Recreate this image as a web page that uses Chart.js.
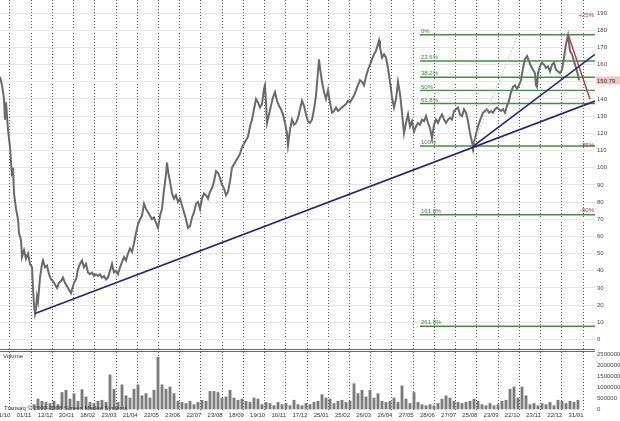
<!DOCTYPE html>
<html><head><meta charset="utf-8">
<script src="https://cdn.jsdelivr.net/npm/chart.js@4"></script>
<style>
html,body{margin:0;padding:0;background:#fff;}
#wrap{position:relative;width:620px;height:421px;overflow:hidden;background:#fff;}
#pc{position:absolute;left:0;top:0;}
#vc{position:absolute;left:0;top:349px;}
</style></head>
<body><div id="wrap"><canvas id="pc" width="620" height="349"></canvas><canvas id="vc" width="620" height="72"></canvas></div>
<script>
// ---- data (x = trading-day index along the chart) ----
const dateLabels = ['01/10','01/11','12/12','20/01','18/02','23/03','21/04','22/05','23/06','22/07','23/08','18/09','19/10','10/11','17/12','25/01','25/02','26/03','26/04','27/05','28/06','27/07','25/08','23/09','22/10','23/11','22/12','31/01'];
const dateTickDays = [9.8,31,52.3,73.5,94.7,116,137.2,158.4,179.6,200.9,222.1,243.3,264.6,285.8,307,328.2,349.5,370.7,391.9,413.2,434.4,455.6,476.8,498.1,519.3,540.5,561.8,583];
const dateLabelDays = [2.8,24,45.3,66.5,87.7,109,130.2,151.4,172.6,193.9,215.1,236.3,257.6,278.8,300,321.2,342.5,363.7,384.9,406.2,427.4,448.6,469.8,491.1,512.3,533.5,554.8,576];
const priceTicks = [0,10,20,30,40,50,60,70,80,90,100,110,120,130,140,150,160,170,180,190];
const volumeTicks = [0,500000,1000000,1500000,2000000,2500000];

// [day, close]
const priceBars = [[0,153],[2,148],[4,140],[5,128],[6,138],[8,122],[10,112],[12,95],[13,100],[14,85],[16,76],[18,70],[19,62],[21,58],[22,48],[24,52],[26,47],[28,50],[30,44],[32,42],[33,30],[34,20],[35,15],[36,18],[37,25],[38,22],[40,36],[42,44],[43,46],[45,42],[47,43],[49,38],[51,35],[53,34],[55,32],[57,30],[59,33],[61,34],[63,36],[65,33],[67,31],[69,29],[71,27],[72,29],[74,33],[76,35],[78,41],[80,44],[82,46],[84,42],[86,44],[88,39],[90,38],[92,39],[94,37],[96,38],[98,37],[100,38],[102,36],[104,37],[106,35],[108,36],[110,40],[112,44],[114,39],[116,40],[118,38],[120,42],[122,45],[124,48],[126,46],[128,50],[130,53],[132,51],[134,56],[136,62],[138,67],[140,70],[142,72],[144,79],[146,76],[148,74],[150,72],[152,70],[154,71],[156,68],[158,65],[160,72],[162,76],[164,87],[166,96],[167,103],[168,98],[170,92],[172,85],[174,82],[176,84],[178,80],[180,82],[182,78],[184,74],[186,70],[188,65],[190,66],[192,71],[194,74],[196,79],[198,80],[200,76],[202,82],[204,85],[206,84],[208,82],[210,86],[212,88],[214,92],[216,98],[218,97],[220,94],[222,90],[224,88],[226,84],[228,86],[230,92],[232,100],[234,102],[236,104],[238,106],[240,108],[242,112],[244,114],[246,116],[248,118],[250,124],[252,128],[254,134],[256,140],[258,138],[260,135],[262,137],[264,146],[265,148],[266,138],[267,126],[269,131],[271,136],[273,141],[275,144],[277,139],[279,136],[281,134],[283,131],[285,126],[287,120],[288,113],[290,122],[292,128],[294,125],[296,126],[298,129],[300,134],[302,139],[304,136],[306,131],[308,127],[310,126],[312,128],[314,134],[316,142],[318,156],[319,163],[320,158],[322,150],[324,144],[326,140],[328,145],[330,138],[332,132],[334,133],[336,135],[338,133],[340,134],[342,135],[344,136],[346,137],[348,139],[350,138],[352,140],[354,142],[356,145],[358,148],[360,151],[362,150],[364,148],[366,153],[368,157],[370,160],[372,163],[374,166],[376,168],[378,172],[379,174],[380,170],[382,164],[384,166],[386,164],[388,158],[390,150],[392,141],[394,135],[396,140],[398,150],[400,143],[402,132],[404,120],[406,126],[408,131],[410,124],[412,127],[414,121],[416,124],[418,126],[420,125],[422,128],[424,127],[426,130],[428,126],[430,123],[432,117],[434,125],[436,128],[438,126],[440,129],[442,131],[444,128],[446,126],[448,128],[450,129],[452,128],[454,133],[456,134],[458,135],[460,131],[462,130],[464,134],[466,132],[468,127],[470,120],[472,115],[473,112.5],[475,117],[477,122],[479,126],[481,129],[483,132],[485,133],[487,134],[489,132],[491,133],[493,132],[495,134],[497,135],[499,134],[501,133],[503,134],[505,132],[507,136],[509,139],[511,144],[513,147],[515,148],[517,146],[519,148],[521,151],[523,158],[525,163],[527,165],[529,162],[531,159],[533,157],[535,155],[536,148],[537,147],[538,155],[540,159],[542,161],[544,160],[546,158],[548,159],[550,156],[552,160],[554,161],[556,157],[558,156],[560,155],[562,157],[564,164],[566,172],[568,177],[570,168],[572,166],[574,162],[576,158],[578,154],[579,150.79]];
const lastPrice = 150.79;

// volume, one bar every 4 days starting at day 34
const volumeStartDay = 34, volumeStepDays = 4;
const volume = [200,450,350,300,250,350,200,750,850,450,700,350,880,550,300,250,350,400,300,1550,900,300,1100,600,500,900,1100,600,700,500,850,2350,1100,900,1000,700,350,300,250,350,200,300,400,350,800,800,750,500,550,850,500,400,450,350,300,500,450,200,300,250,150,300,200,250,150,400,200,150,250,200,300,350,650,500,450,250,350,400,300,350,1150,700,850,550,850,500,700,350,300,350,500,300,1050,450,250,750,300,200,150,200,150,250,450,600,500,350,300,250,300,350,450,350,200,150,250,150,200,350,400,900,1000,500,1000,600,200,250,150,250,200,300,150,400,350,250,350,300,400].map(v=>v*1000);

// Fibonacci levels and drawn lines
const fibLabels = ['0%','23.6%','38.2%','50%','61.8%','100%','161.8%','261.8%'];
const fibLevels = [177.4,162.1,152.6,145.0,137.4,112.6,72.6,7.75];
const fibStartDay = 420, fibEndDay = 595;
const pctLabels = ['+25%','-25%','-50%'];
const pctLevels = [188.5,113.1,75.4];
const supportLong = [[35,15.2],[595,138.8]];
const supportShort = [[472.7,112.2],[595,166]];
const resistance = [[568.3,177.2],[590,139.8]];
const fibGuide = [[472.7,112.6],[518,177.4]];

// ---- charts ----
const FONT = 'Liberation Sans';
const pts = a => a.map(p => ({x:p[0], y:p[1]}));
function fixW(s){ s.width = 25; s.paddingTop = 0; s.paddingBottom = 0; }
function tickSet(list){ return s => { s.ticks = list.map(v => ({value:v})); }; }

const lineDs = (data, color, w, dash, order) => ({type:'line', data:pts(data), borderColor:color, borderWidth:w, borderDash:dash||[], pointRadius:0, fill:false, tension:0, order:order||1});

const datasets = [];
datasets.push(lineDs(supportLong,'#23237a',1.6));
datasets.push(lineDs(supportShort,'#23237a',1.6));
datasets.push(lineDs(resistance,'#b83a3a',1.4));
datasets.push(lineDs(fibGuide,'#b4b4b4',1,[1.5,2]));
fibLevels.forEach(v => datasets.push(lineDs([[fibStartDay,v],[fibEndDay,v]],'#4a8a46',1.4,[],3)));
datasets.push({type:'line', data:pts(priceBars), borderColor:'#6a6a6a', borderWidth:2, pointRadius:0, tension:0, fill:false, order:5});

const overlay = {
  id:'overlay',
  afterDatasetsDraw(chart){
    const {ctx, scales:{x, y}} = chart;
    ctx.save();
    ctx.font = '6px "'+FONT+'"';
    ctx.fillStyle = '#3f7f3c'; ctx.textAlign = 'left'; ctx.textBaseline = 'bottom';
    fibLevels.forEach((v,i) => ctx.fillText(fibLabels[i], x.getPixelForValue(fibStartDay)+1, y.getPixelForValue(v)-0.5));
    ctx.fillStyle = '#a33c3c'; ctx.textAlign = 'right'; ctx.textBaseline = 'middle';
    pctLevels.forEach((v,i) => ctx.fillText(pctLabels[i], x.right-1, y.getPixelForValue(v)));
    const py = y.getPixelForValue(lastPrice);
    ctx.fillStyle = '#f2c6c6'; ctx.fillRect(x.right+1, py-4, 24, 8);
    ctx.fillStyle = '#333'; ctx.textAlign = 'left';
    ctx.fillText(lastPrice.toFixed(2), x.right+2, py+0.5);
    ctx.restore();
  }
};

new Chart(document.getElementById('pc'), {
  type:'line',
  data:{datasets},
  options:{
    responsive:false, animation:false, devicePixelRatio:1,
    layout:{padding:0},
    plugins:{legend:{display:false}, tooltip:{enabled:false}},
    scales:{
      x:{type:'linear', min:0, max:595, offset:false, afterBuildTicks:tickSet(dateTickDays),
         ticks:{display:false}, grid:{color:'#555', lineWidth:1, drawTicks:false, offset:false},
         border:{display:false, dash:[1,2]},
         afterFit: s => { s.height = 0; s.paddingLeft = 0; s.paddingRight = 0; }},
      y:{type:'linear', position:'right', min:-5.53, max:197.6, afterBuildTicks:tickSet(priceTicks),
         ticks:{font:{family:FONT, size:6}, color:'#444', padding:2},
         grid:{color:'#e6e6e6', lineWidth:1, drawTicks:false}, border:{display:false},
         afterFit:fixW}
    }
  },
  plugins:[overlay]
});

const volPanel = {
  id:'volPanel',
  afterDraw(chart){
    const {ctx, chartArea} = chart;
    ctx.save();
    ctx.fillStyle = '#666';
    ctx.fillRect(0, 0, chartArea.right, 1);
    ctx.fillRect(0, 2, chartArea.right, 1);
    ctx.font = '6px "'+FONT+'"';
    ctx.fillStyle = '#333'; ctx.textBaseline = 'middle'; ctx.textAlign = 'left';
    ctx.fillText('Volume', 3, 7);
    ctx.fillText('Transaq \u00a9 2000-2008 Screen Market Systems', 4, chartArea.bottom - 1.5);
    ctx.restore();
  }
};

new Chart(document.getElementById('vc'), {
  type:'bar',
  data:{datasets:[{type:'bar', data:volume.map((v,i)=>({x:volumeStartDay+i*volumeStepDays, y:v})),
    backgroundColor:'#7a7a7a', borderWidth:0, barThickness:2.2}]},
  options:{
    responsive:false, animation:false, devicePixelRatio:1,
    layout:{padding:0},
    plugins:{legend:{display:false}, tooltip:{enabled:false}},
    scales:{
      x:{type:'linear', min:0, max:595, offset:false, afterBuildTicks:tickSet(dateTickDays),
         ticks:{display:false},
         grid:{color:'#555', lineWidth:1, drawTicks:false, offset:false},
         border:{display:false, dash:[1,2]},
         afterFit: s => { s.height = 0; s.paddingLeft = 0; s.paddingRight = 0; }},
      xl:{type:'linear', position:'bottom', min:0, max:595, offset:false, afterBuildTicks:tickSet(dateLabelDays),
         ticks:{font:{family:FONT, size:6}, color:'#333', padding:2, autoSkip:false, maxRotation:0,
                callback:(v,i)=>dateLabels[i]},
         grid:{display:false, drawTicks:false, offset:false}, border:{display:false},
         afterFit: s => { s.height = 11; s.paddingLeft = 0; s.paddingRight = 0; }},
      y:{type:'linear', position:'right', min:-45455, max:2727273, afterBuildTicks:tickSet(volumeTicks),
         ticks:{font:{family:FONT, size:6}, color:'#444', padding:2, callback:v=>String(v)},
         grid:{display:false, drawTicks:false}, border:{display:false},
         afterFit:fixW}
    }
  },
  plugins:[volPanel]
});
</script>
</body></html>
